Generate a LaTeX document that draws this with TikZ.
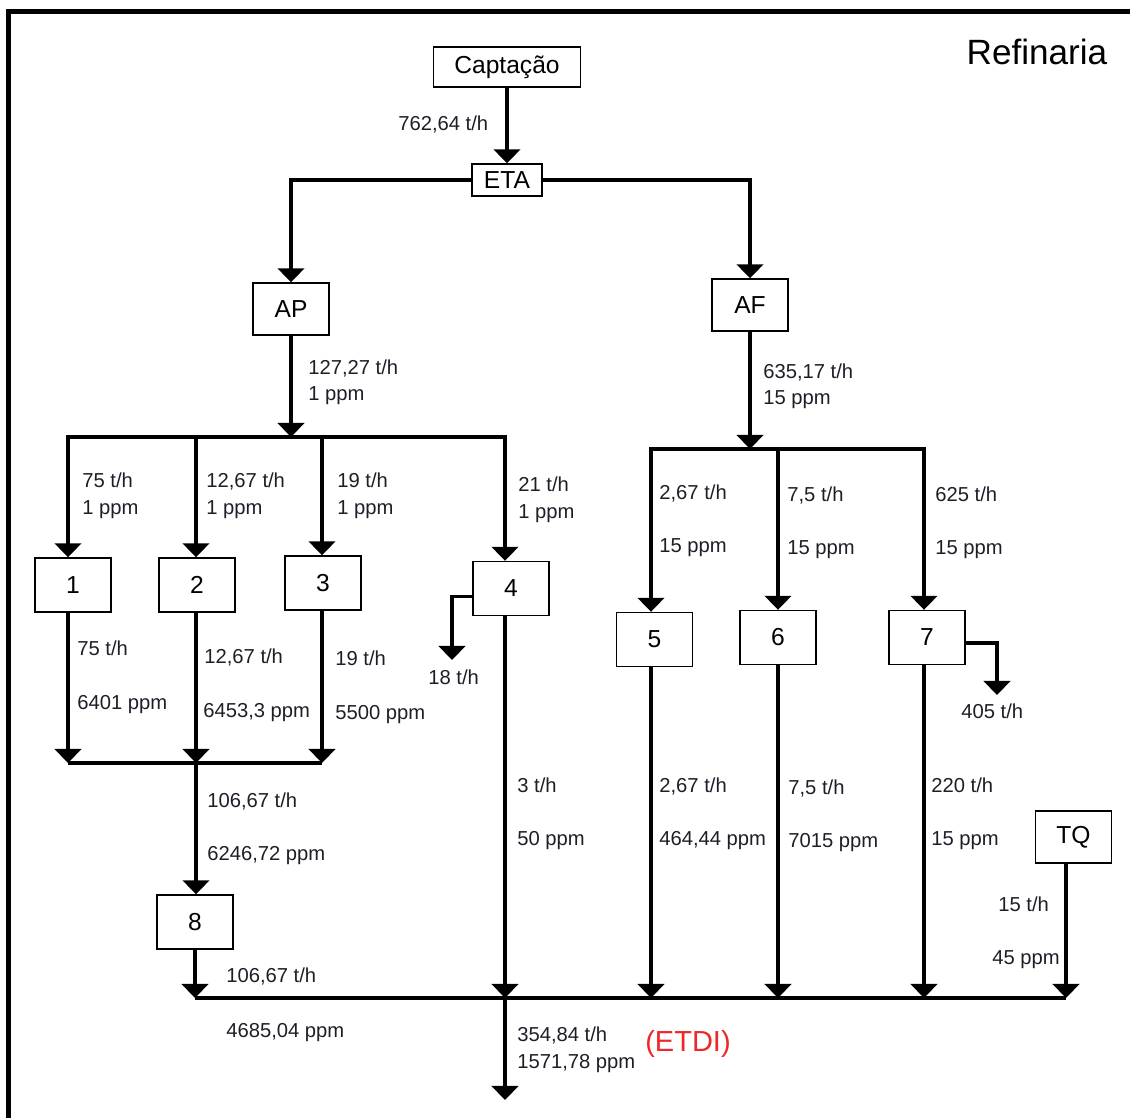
\documentclass[tikz,border=0pt]{standalone}
\usepackage{fontspec}
\setmainfont{Liberation Sans}
\usetikzlibrary{arrows.meta}

\definecolor{etdired}{RGB}{238,40,40}
\definecolor{ink}{RGB}{30,30,40}

\begin{document}
\begin{tikzpicture}[x=0.02cm, y=-0.02cm,
    >={Triangle[width=15pt,length=8pt]},
    unit/.style={draw, line width=0.8pt, minimum width=1.52cm, minimum height=1.08cm,
      inner sep=0pt, font=\fontsize{14}{16}\selectfont},
    flow/.style={->, line width=2pt},
    pipe/.style={line width=2pt},
    lbl/.style={anchor=base west, inner sep=0pt, text=ink,
      font=\fontsize{11.5}{14}\selectfont}]
  \useasboundingbox (0,0) rectangle (1130,1117);
  % frame
  \draw[line width=2.4pt] (8.5,1140) -- (8.5,11.5) -- (1150,11.5);
  \node[font=\fontsize{20}{24}\selectfont] (title) at (1037,52) {Refinaria};

  % supply side
  \node[unit, minimum width=2.94cm, minimum height=0.8cm] (capt) at (507,67) {Captação};
  \node[unit, minimum width=1.4cm, minimum height=0.64cm] (eta) at (507,180) {ETA};
  \node[unit, minimum height=1.04cm] (ap) at (291,309) {AP};
  \node[unit, minimum height=1.04cm] (af) at (750,305) {AF};
  \draw[flow] (capt) -- (eta);
  \draw[flow] (eta.west) -| (ap.north);
  \draw[flow] (eta.east) -| (af.north);
  \node[lbl] (q0) at (398,130) {762,64 t/h};

  % process units
  \node[unit] (u1) at (73,585) {1};
  \node[unit] (u2) at (197,585) {2};
  \node[unit] (u3) at (323,583) {3};
  \node[unit] (u4) at (511,588.5) {4};
  \node[unit] (u5) at (654.5,639.5) {5};
  \node[unit] (u6) at (778,637.5) {6};
  \node[unit] (u7) at (927,637.5) {7};
  \node[unit] (u8) at (195,922) {8};
  \node[unit, minimum height=1.04cm] (tq) at (1073.5,837) {TQ};

  % headers
  \coordinate (a1) at (68,437);
  \coordinate (a2) at (196,437);
  \coordinate (a3) at (322,437);
  \coordinate (a4) at (505,437);
  \coordinate (b5) at (651,449);
  \coordinate (b6) at (778,449);
  \coordinate (b7) at (924,449);
  \coordinate (d1) at (68,763);
  \coordinate (d2) at (196,763);
  \coordinate (d3) at (322,763);
  \coordinate (e8) at (195,998);
  \coordinate (e4) at (505,998);
  \coordinate (e5) at (651,998);
  \coordinate (e6) at (778,998);
  \coordinate (e7) at (924,998);
  \coordinate (etq) at (1066,998);
  \coordinate (etdi) at (505,1100);
  \coordinate (o4) at (452,660);
  \coordinate (o7) at (997,695);

  % AP branch
  \draw[flow] (ap) -- (ap.south |- a1);
  \draw[flow] (a2) -- (a1) -- (a1 |- u1.north);
  \draw[flow] (a2) -- (a2 |- u2.north);
  \draw[flow] (a3) -- (a3 |- u3.north);
  \draw[flow] (a2) -- (a4) -- (a4 |- u4.north);
  \node[lbl] (q1) at (308,374) {127,27 t/h};
  \node[lbl] (c1) at (308,400) {1 ppm};
  \node[lbl] (q2) at (82,487) {75 t/h};
  \node[lbl] (c2) at (82,514) {1 ppm};
  \node[lbl] (q3) at (206,487) {12,67 t/h};
  \node[lbl] (c3) at (206,514) {1 ppm};
  \node[lbl] (q4) at (337,487) {19 t/h};
  \node[lbl] (c4) at (337,514) {1 ppm};
  \node[lbl] (q5) at (518,491) {21 t/h};
  \node[lbl] (c5) at (518,518) {1 ppm};

  % AF branch
  \draw[flow] (af) -- (af.south |- b6);
  \draw[flow] (b6) -- (b5) -- (b5 |- u5.north);
  \draw[flow] (b6) -- (b6 |- u6.north);
  \draw[flow] (b6) -- (b7) -- (b7 |- u7.north);
  \node[lbl] (q6) at (763,378) {635,17 t/h};
  \node[lbl] (c6) at (763,404) {15 ppm};
  \node[lbl] (q7) at (659,499) {2,67 t/h};
  \node[lbl] (c7) at (659,552) {15 ppm};
  \node[lbl] (q8) at (787,501) {7,5 t/h};
  \node[lbl] (c8) at (787,554) {15 ppm};
  \node[lbl] (q9) at (935,501) {625 t/h};
  \node[lbl] (c9) at (935,554) {15 ppm};

  % units 1-3 to unit 8
  \draw[flow] (u1.south -| d1) -- (d1);
  \draw[flow] (u2.south -| d2) -- (d2);
  \draw[flow] (u3.south -| d3) -- (d3);
  \draw[pipe] (d1) -- (d3);
  \draw[flow] (d2) -- (d2 |- u8.north);
  \node[lbl] (q10) at (77,655) {75 t/h};
  \node[lbl] (c10) at (77,709) {6401 ppm};
  \node[lbl] (q11) at (204,663) {12,67 t/h};
  \node[lbl] (c11) at (203,717) {6453,3 ppm};
  \node[lbl] (q12) at (335,665) {19 t/h};
  \node[lbl] (c12) at (335,719) {5500 ppm};
  \node[lbl] (q13) at (207,807) {106,67 t/h};
  \node[lbl] (c13) at (207,860) {6246,72 ppm};

  % losses
  \draw[flow] ([yshift=-1.6mm]u4.west) -| (o4);
  \draw[flow] ([yshift=-1.1mm]u7.east) -| (o7);
  \node[lbl] (q14) at (428,684) {18 t/h};
  \node[lbl] (q15) at (961,718) {405 t/h};

  % effluent header
  \draw[pipe] (e8) -- (etq);
  \draw[flow] (u8.south -| e8) -- (e8);
  \draw[flow] (u4.south -| e4) -- (e4);
  \draw[flow] (u5.south -| e5) -- (e5);
  \draw[flow] (u6.south -| e6) -- (e6);
  \draw[flow] (u7.south -| e7) -- (e7);
  \draw[flow] (tq.south -| etq) -- (etq);
  \draw[flow] (e4) -- (etdi);
  \node[lbl] (q16) at (226,982) {106,67 t/h};
  \node[lbl] (c16) at (226,1037) {4685,04 ppm};
  \node[lbl] (q17) at (517,792) {3 t/h};
  \node[lbl] (c17) at (517,845) {50 ppm};
  \node[lbl] (q18) at (659,792) {2,67 t/h};
  \node[lbl] (c18) at (659,845) {464,44 ppm};
  \node[lbl] (q19) at (788,794) {7,5 t/h};
  \node[lbl] (c19) at (788,847) {7015 ppm};
  \node[lbl] (q20) at (931,792) {220 t/h};
  \node[lbl] (c20) at (931,845) {15 ppm};
  \node[lbl] (q21) at (998,911) {15 t/h};
  \node[lbl] (c21) at (992,964) {45 ppm};
  \node[lbl] (q22) at (517,1041) {354,84 t/h};
  \node[lbl] (c22) at (517,1068) {1571,78 ppm};
  \node[text=etdired, font=\fontsize{16.5}{20}\selectfont] (etdiname) at (688,1044) {(ETDI)};
\end{tikzpicture}
\end{document}
